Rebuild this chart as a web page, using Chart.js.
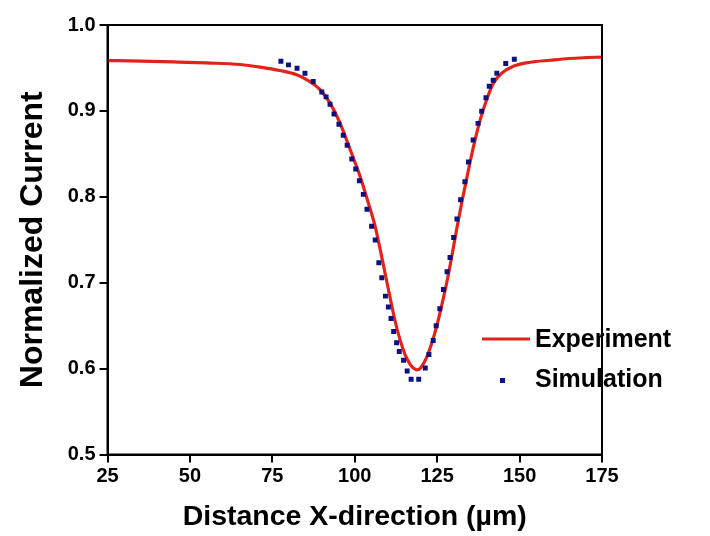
<!DOCTYPE html>
<html>
<head>
<meta charset="utf-8">
<script src="https://cdn.jsdelivr.net/npm/chart.js@4.4.1/dist/chart.umd.min.js"></script>
<style>
  html, body { margin: 0; padding: 0; background: #fff; }
  #wrap { width: 710px; height: 536px; }
</style>
</head>
<body>
<div id="wrap"><canvas id="chart" width="710" height="536"></canvas></div>
<script>
// Experiment curve
const expX = [25, 35, 45, 55, 65.2, 71.3, 77.3, 82.4, 86.4, 89.4, 92.5, 95.5, 98.6, 101.6, 104.1, 106.2,
  107.7, 109.2, 110.7, 112.2, 113.7, 115.3, 116.8, 118.0, 118.8, 119.8, 121.8, 123.4, 124.9, 126.4,
  127.9, 129.4, 130.9, 132.5, 134.0, 136.0, 138.0, 140.0, 142.0, 144.6, 148.1, 153.2, 159.3, 165, 170, 175];
const expY = [0.9586, 0.958, 0.957, 0.9558, 0.954, 0.951, 0.947, 0.942, 0.934, 0.925, 0.909, 0.886, 0.855, 0.824, 0.793, 0.7654,
  0.739, 0.711, 0.683, 0.656, 0.634, 0.616, 0.605, 0.600, 0.5985, 0.600, 0.613, 0.630, 0.650, 0.674,
  0.700, 0.730, 0.762, 0.794, 0.822, 0.858, 0.889, 0.913, 0.932, 0.944, 0.952, 0.9566, 0.959, 0.961, 0.962, 0.9627];

// Simulation points
const simX = [77.6, 79.9, 82.5, 84.9, 87.4, 90.0, 91.3, 92.5, 93.7, 95.2, 96.5, 97.7, 99.1, 100.3, 101.4, 102.6,
  103.7, 105.1, 106.2, 107.3, 108.2, 109.3, 110.2, 111.0, 111.8, 112.7, 113.5, 114.8, 115.9, 117.1,
  119.4, 121.4, 122.5, 123.8, 124.7, 125.8, 126.9, 128.0, 128.9, 130.0, 131.0, 132.1, 133.4, 134.5,
  135.9, 137.4, 138.5, 139.8, 140.8, 142.0, 143.1, 145.8, 148.4];
const simY = [0.9578, 0.9536, 0.9497, 0.9438, 0.9342, 0.9221, 0.9163, 0.9077, 0.8965, 0.8844, 0.8716, 0.8599, 0.8441, 0.8324, 0.8188, 0.8028,
  0.7855, 0.7657, 0.7497, 0.7232, 0.7057, 0.6844, 0.6716, 0.6583, 0.6431, 0.6300, 0.6198, 0.6098, 0.5973, 0.5876,
  0.5876, 0.6008, 0.6163, 0.6326, 0.6498, 0.6696, 0.6921, 0.7127, 0.7294, 0.7527, 0.7741, 0.7966, 0.8176, 0.8406,
  0.8662, 0.8855, 0.8995, 0.9152, 0.9287, 0.9357, 0.9438, 0.9551, 0.9601];

const xTicks = [25, 50, 75, 100, 125, 150, 175];
const yTicks = [0.5, 0.6, 0.7, 0.8, 0.9, 1.0];
const seriesNames = ['Experiment', 'Simulation'];

const FONT = "'Liberation Sans', Arial, sans-serif";
const RED = '#e2231a';
const NAVY = '#0d1180';

// box around the plot + legend inside
const framePlugin = {
  id: 'frame',
  afterDraw(chart) {
    const { ctx, chartArea: a } = chart;
    ctx.save();
    ctx.strokeStyle = '#000';
    ctx.lineWidth = 2;
    ctx.strokeRect(a.left, a.top, a.right - a.left, a.bottom - a.top);

    // legend
    ctx.font = 'bold 25px ' + FONT;
    ctx.fillStyle = '#000';
    ctx.textBaseline = 'middle';
    ctx.strokeStyle = RED;
    ctx.lineWidth = 3;
    ctx.beginPath();
    ctx.moveTo(482, 339);
    ctx.lineTo(530, 339);
    ctx.stroke();
    ctx.fillText(seriesNames[0], 535, 340);
    ctx.fillStyle = NAVY;
    ctx.fillRect(500, 378, 5, 5);
    ctx.fillStyle = '#000';
    ctx.fillText(seriesNames[1], 535, 380);
    ctx.restore();
  }
};

new Chart(document.getElementById('chart'), {
  type: 'scatter',
  data: {
    datasets: [
      {
        label: seriesNames[0],
        data: expX.map((x, i) => ({ x: x, y: expY[i] })),
        showLine: true,
        borderColor: RED,
        borderWidth: 3.2,
        pointRadius: 0,
        cubicInterpolationMode: 'monotone',
        order: 2
      },
      {
        label: seriesNames[1],
        data: simX.map((x, i) => ({ x: x, y: simY[i] })),
        showLine: false,
        pointStyle: 'rect',
        pointRadius: 3.5,
        backgroundColor: NAVY,
        borderColor: NAVY,
        borderWidth: 0,
        order: 1
      }
    ]
  },
  options: {
    responsive: false,
    animation: false,
    layout: { padding: { top: 25, right: 108, left: 14, bottom: 0 } },
    plugins: { legend: { display: false }, tooltip: { enabled: false } },
    scales: {
      x: {
        type: 'linear',
        min: 25, max: 175,
        afterBuildTicks: s => { s.ticks = xTicks.map(v => ({ value: v })); },
        afterFit: s => { s.height = 536 - 454.5; },
        grid: { drawOnChartArea: false, drawTicks: true, tickLength: 8, color: '#000', lineWidth: 2 },
        border: { display: true, color: '#000', width: 2 },
        ticks: { color: '#000', padding: 2, font: { family: FONT, size: 20, weight: 'bold' } },
        title: { display: true, text: 'Distance X-direction (µm)', color: '#000', padding: { top: 6, bottom: 2 },
          font: { family: FONT, size: 28.5, weight: 'bold' } }
      },
      y: {
        type: 'linear',
        min: 0.5, max: 1.0,
        afterBuildTicks: s => { s.ticks = yTicks.map(v => ({ value: v })); },
        afterFit: s => { s.width = 107.5 - 14; },
        grid: { drawOnChartArea: false, drawTicks: true, tickLength: 8, color: '#000', lineWidth: 2 },
        border: { display: true, color: '#000', width: 2 },
        ticks: { color: '#000', padding: 4, callback: v => v.toFixed(1), font: { family: FONT, size: 20, weight: 'bold' } },
        title: { display: true, text: 'Normalized Current', color: '#000', padding: { top: 0, bottom: 8 },
          font: { family: FONT, size: 32, weight: 'bold' } }
      }
    }
  },
  plugins: [framePlugin]
});
</script>
</body>
</html>
